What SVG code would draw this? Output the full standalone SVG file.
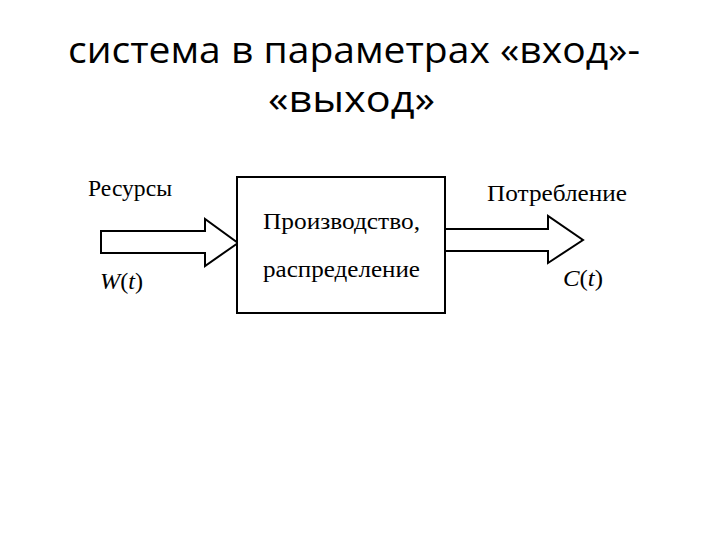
<svg xmlns="http://www.w3.org/2000/svg" width="720" height="540" viewBox="0 0 720 540">
<style>
.title{font-family:"Open Sans","Noto Sans",sans-serif;font-size:36px;fill:#000}
.lbl{font-family:"Liberation Serif","DejaVu Serif",serif;font-size:23px;fill:#000}
.it{font-style:italic}
.shape{fill:#fff;stroke:#000;stroke-width:2}
</style>
<rect width="720" height="540" fill="#fff"/>
<g id="title">
<text class="title" x="68" y="63" textLength="572" lengthAdjust="spacingAndGlyphs">система в параметрах «вход»-</text>
<text class="title" x="268" y="112" textLength="167" lengthAdjust="spacingAndGlyphs">«выход»</text>
</g>
<g id="connectors">
<polygon class="shape" points="101,231 205,231 205,219 238,243 205,266 205,253 101,253"/>
<polygon class="shape" points="445,229 548,229 548,216 583,240 548,263 548,251 445,251"/>
</g>
<g id="process">
<rect class="shape" x="237" y="177" width="208" height="136"/>
<text class="lbl" x="263" y="229" textLength="157" lengthAdjust="spacingAndGlyphs">Производство,</text>
<text class="lbl" x="263" y="277" textLength="157" lengthAdjust="spacingAndGlyphs">распределение</text>
</g>
<g id="input">
<text class="lbl" x="88" y="196" textLength="84" lengthAdjust="spacingAndGlyphs">Ресурсы</text>
<text class="lbl" x="100" y="289" textLength="43" lengthAdjust="spacingAndGlyphs"><tspan class="it">W</tspan>(<tspan class="it">t</tspan>)</text>
</g>
<g id="output">
<text class="lbl" x="487" y="201" textLength="140" lengthAdjust="spacingAndGlyphs">Потребление</text>
<text class="lbl" x="563" y="286" textLength="40" lengthAdjust="spacingAndGlyphs"><tspan class="it">C</tspan>(<tspan class="it">t</tspan>)</text>
</g>
</svg>
